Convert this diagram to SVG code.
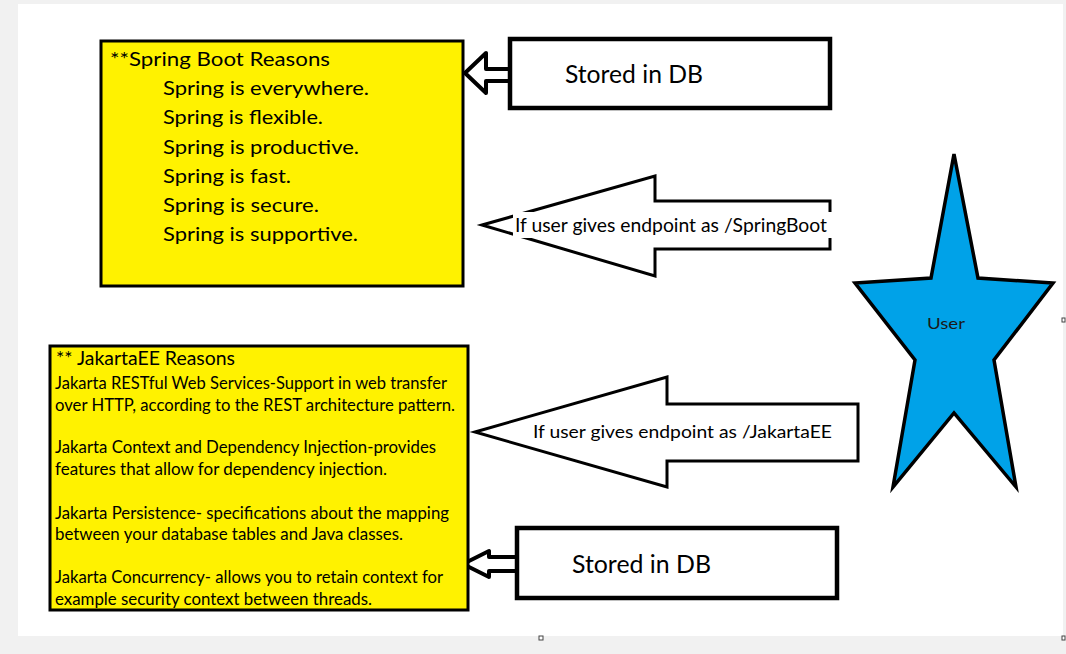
<svg xmlns="http://www.w3.org/2000/svg" width="1066" height="654" viewBox="0 0 1066 654">
<style>
.t{font-family:Lato,"Liberation Sans",sans-serif;fill:#000}
.box{fill:#fff200;stroke:#000;stroke-width:3}
.db{fill:#fff;stroke:#000;stroke-width:4.5}
.ar{fill:#fff;stroke:#000;stroke-width:3;stroke-linejoin:miter}
.sa{fill:#fff;stroke:#000;stroke-width:4;stroke-linejoin:round}
.h{fill:#fff;stroke:#444;stroke-width:1}
</style>
<rect x="0" y="0" width="1066" height="654" fill="#f1f1f1"/>
<rect x="18" y="4" width="1045" height="632" fill="#fff"/>
<rect x="539" y="636" width="4" height="4" class="h"/>
<rect x="1062" y="318" width="3" height="4" class="h"/>
<rect x="1062" y="636" width="3" height="4" class="h"/>

<g id="connectors">
  <path class="sa" d="M465,73 L486,53 L486,69 L510,69 L510,81 L486,81 L486,93 Z"/>
  <path class="ar" d="M482,225 L655,176 L655,201 L830,201 L830,249 L655,249 L655,276 Z"/>
  <rect x="513" y="212" width="320" height="26" fill="#fff"/>
  <text class="t" x="515" y="232" font-size="19" textLength="312" lengthAdjust="spacingAndGlyphs">If user gives endpoint as /SpringBoot</text>
  <path class="ar" d="M475,432 L667,377 L667,404 L858,404 L858,461 L667,461 L667,487 Z"/>
  <text class="t" x="533" y="438" font-size="18" textLength="299" lengthAdjust="spacingAndGlyphs">If user gives endpoint as /JakartaEE</text>
  <path class="sa" d="M463,564 L489,551 L489,557 L517,557 L517,571 L489,571 L489,577 Z"/>
</g>

<g id="spring-box">
  <rect class="box" x="101" y="41" width="362" height="245"/>
  <text class="t" x="110" y="66" font-size="20" textLength="220" lengthAdjust="spacingAndGlyphs">**Spring Boot Reasons</text>
  <text class="t" x="163" y="95" font-size="20" textLength="206" lengthAdjust="spacingAndGlyphs">Spring is everywhere.</text>
  <text class="t" x="163" y="124" font-size="20" textLength="160" lengthAdjust="spacingAndGlyphs">Spring is flexible.</text>
  <text class="t" x="163" y="154" font-size="20" textLength="196" lengthAdjust="spacingAndGlyphs">Spring is productive.</text>
  <text class="t" x="163" y="183" font-size="20" textLength="128" lengthAdjust="spacingAndGlyphs">Spring is fast.</text>
  <text class="t" x="163" y="212" font-size="20" textLength="156" lengthAdjust="spacingAndGlyphs">Spring is secure.</text>
  <text class="t" x="163" y="241" font-size="20" textLength="195" lengthAdjust="spacingAndGlyphs">Spring is supportive.</text>
</g>

<g id="db-top">
  <rect class="db" x="510" y="39" width="320" height="69"/>
  <text class="t" x="565" y="83" font-size="25" textLength="138" lengthAdjust="spacingAndGlyphs">Stored in DB</text>
</g>

<g id="jakarta-box">
  <rect class="box" x="50" y="346" width="418" height="264"/>
  <text class="t" x="56" y="365" font-size="18.5" textLength="179" lengthAdjust="spacingAndGlyphs">** JakartaEE Reasons</text>
  <text class="t" x="55" y="389" font-size="16.5" textLength="392" lengthAdjust="spacingAndGlyphs">Jakarta RESTful Web Services-Support in web transfer</text>
  <text class="t" x="55" y="411" font-size="16.5" textLength="400" lengthAdjust="spacingAndGlyphs">over HTTP, according to the REST architecture pattern.</text>
  <text class="t" x="55" y="453" font-size="16.5" textLength="381" lengthAdjust="spacingAndGlyphs">Jakarta Context and Dependency Injection-provides</text>
  <text class="t" x="55" y="475" font-size="16.5" textLength="332" lengthAdjust="spacingAndGlyphs">features that allow for dependency injection.</text>
  <text class="t" x="55" y="519" font-size="16.5" textLength="394" lengthAdjust="spacingAndGlyphs">Jakarta Persistence- specifications about the mapping</text>
  <text class="t" x="55" y="540" font-size="16.5" textLength="348" lengthAdjust="spacingAndGlyphs">between your database tables and Java classes.</text>
  <text class="t" x="55" y="583" font-size="16.5" textLength="388" lengthAdjust="spacingAndGlyphs">Jakarta Concurrency- allows you to retain context for</text>
  <text class="t" x="55" y="605" font-size="16.5" textLength="317" lengthAdjust="spacingAndGlyphs">example security context between threads.</text>
</g>

<g id="db-bottom">
  <rect class="db" x="517" y="528" width="320" height="70"/>
  <text class="t" x="572" y="573" font-size="25" textLength="139" lengthAdjust="spacingAndGlyphs">Stored in DB</text>
</g>

<g id="user">
  <path d="M954,154 L978,278 L1053,283 L994,360 L1016,487 L954,413 L893,487 L915,360 L855,283 L931,278 Z" fill="#00a2e8" stroke="#000" stroke-width="3.5" stroke-linejoin="miter"/>
  <text class="t" x="927" y="329" font-size="16" textLength="38" lengthAdjust="spacingAndGlyphs" style="fill:#1a1a1a">User</text>
</g>
</svg>
